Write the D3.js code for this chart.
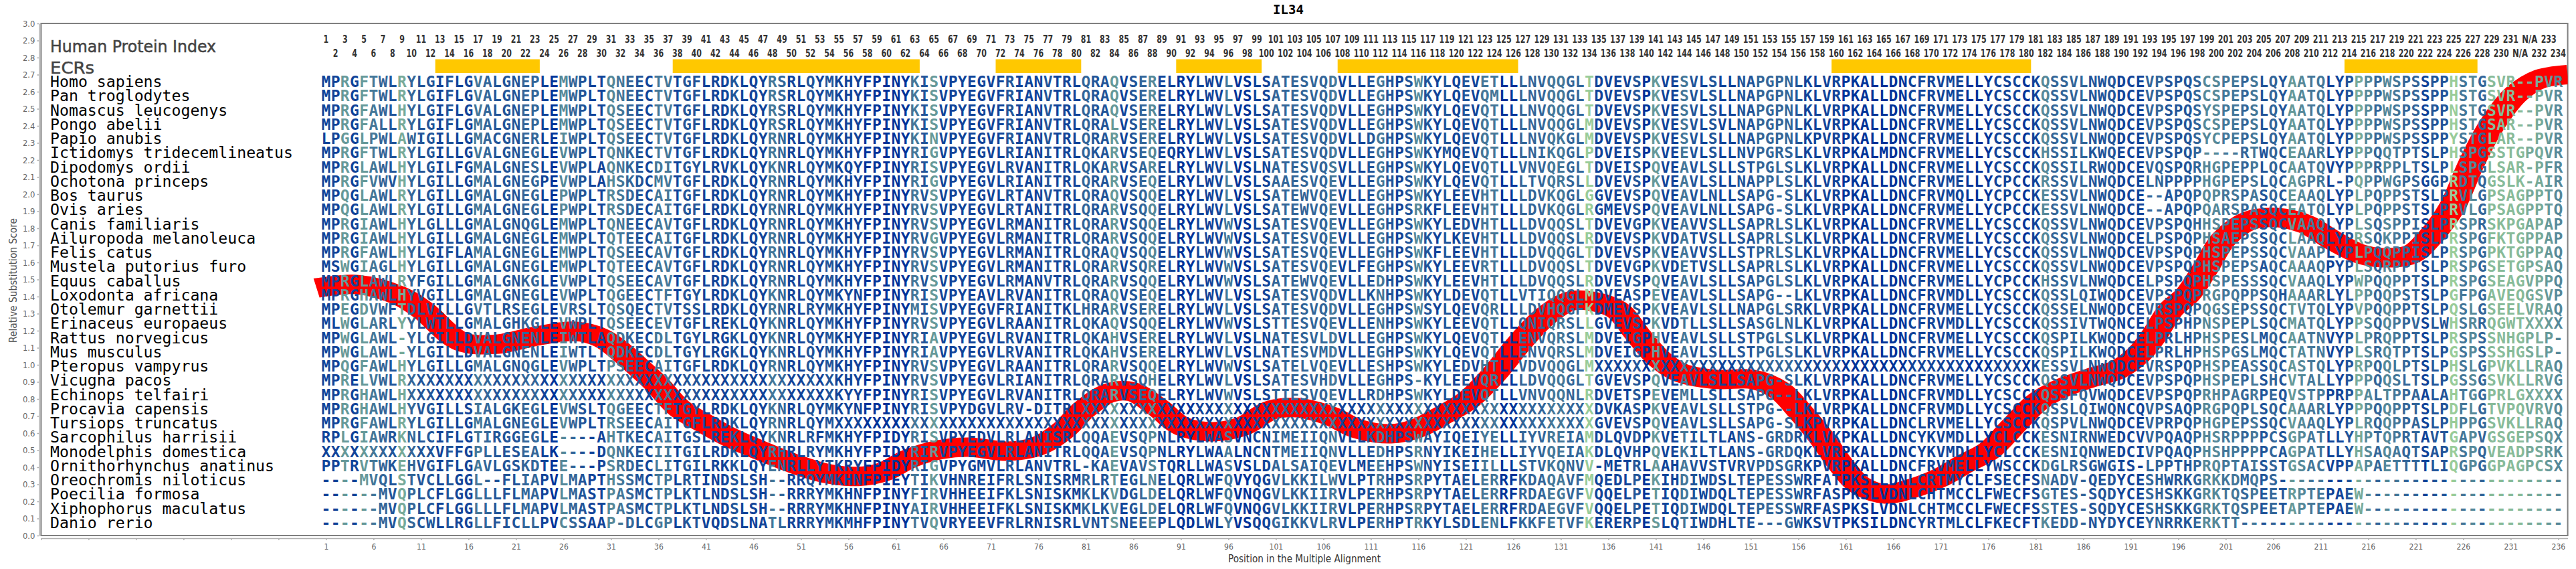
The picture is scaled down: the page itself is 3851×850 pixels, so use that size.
<!DOCTYPE html>
<html>
<head>
<meta charset="utf-8">
<title>IL34</title>
<script src="https://cdn.jsdelivr.net/npm/d3@7"></script>
<style>
    body { margin: 0; background: #fff; }
    svg { display: block; }
</style>
</head>
<body>
<svg id="chart" width="3851" height="850"></svg>
<script>
const species = ["Homo sapiens", "Pan troglodytes", "Nomascus leucogenys", "Pongo abelii", "Papio anubis",
    "Ictidomys tridecemlineatus", "Dipodomys ordii", "Ochotona princeps", "Bos taurus", "Ovis aries",
    "Canis familiaris", "Ailuropoda melanoleuca", "Felis catus", "Mustela putorius furo", "Equus caballus",
    "Loxodonta africana", "Otolemur garnettii", "Erinaceus europaeus", "Rattus norvegicus", "Mus musculus",
    "Pteropus vampyrus", "Vicugna pacos", "Echinops telfairi", "Procavia capensis", "Tursiops truncatus",
    "Sarcophilus harrisii", "Monodelphis domestica", "Ornithorhynchus anatinus", "Oreochromis niloticus",
    "Poecilia formosa", "Xiphophorus maculatus", "Danio rerio"];

// alignment, cut in four blocks: columns 1-30, 31-100, 101-170, 171-236
const block1 = ["MPRGFTWLRYLGIFLGVALGNEPLEMWPLT", "MPRGFTWLRYLGIFLGVALGNEPLEMWPLT", "MPRGFAWLHYLGIFLGVALGNEPLEMWPLT",
    "MPRGFALLRYLGIFLGMALGNEPLEMWPLT", "LPGGLPWLAWIGILLGMACGNERLEIWPLT", "MPRGFTWLRYLGILLGVALGNEGLEVWPLT",
    "MPRGLAWLHYLGILFGMALGNESLEVWPLA", "MPRGFVWVHYLGILLGMALGNEGPEVWPLA", "MPQGLAWLRYLGILLGMALGNEGLEPWPLT",
    "MPQGLAWLRYLGILLGMALGNEGLEPWPLT", "MPRGIAWLHYLGLLLGMALGNQGLEMWPLT", "MPRGIAWLHYLGILLGMALGNEGLEMWPLT",
    "MPRGFAWLHYLGIFLAMALGNEGLEMWPLT", "MSWGIAGLHYLGILLGMALGNEGLEMWPLT", "MPRGLAWLRYFGILLGMALGNKGLEVWPLT",
    "MPRGHAWLHYVGILLGMALGNEGLEVWPLT", "MPEGDVWFTDLVILLGVTLRSEGLEVRSLT", "MLWGLARLYYLWTLLGMALGHKGLEVWPLT",
    "MPWGLAWL-YLGILLDVALGNENLEIWTLA", "MPWGLAWL-YLGILLDVALGNENLEIWTLT", "MPQGFAWLHYLGILLGMALGNQGLEVWPLT",
    "MPRELVWLRXXXXXXXXXXXXXXXXXXXXX", "MPRGHAWLHXXXXXXXXXXXXXXXXXXXXX", "MPRGHAWLHYVGILLSIALGKEGLEVWSLT",
    "MPRGFAWLRYLGILLGMALGNEGLEVWPLT", "RPLGIAWRKNLCIFLGTIRGGEGLE----A", "XXXXXXXXXXXXVFFGPLLESEALK----D",
    "PPTRVTWKEHVGIFLGAVLGSKDTEE---P", "----MVQLSTVCLLGGL--FLIAPVLMAPT", "------MVQPLCFLGGLLLFLMAPVLMAST",
    "------MVQPLCFLGGLLLFLMAPVLMAST", "------MVQSCWLLRGLLFICLLPVCSSAA"];

const block2 = ["QNEECTVTGFLRDKLQYRSRLQYMKHYFPINYKISVPYEGVFRIANVTRLQRAQVSERELRYLWVLVSLS",
    "QNEECTVTGFLRDKLQYRSRLQYMKHYFPINYKISVPYEGVFRIANVTRLQRAQVSERELRYLWVLVSLS",
    "QSEECTVTGFLRDKLQYRSRLQYMKHYFPINYKISVPYEGVFRIANVTRLQRAQVSERELRYLWVLVSLS",
    "QSEECTVTGFLRDKLQYRSRLQYMKHYFPINYKISVPYEGVFRIANVTRLQRALVSERELRYLWVLVSLS",
    "QSEECTVTGFLRDKLQYRNRLQYMKHYFPINYKINVPYEGVFRIANVTRLQRARVSERELRYLWVLVSLS",
    "QNKECTVTGFLRDKLQYRNRLQYMKHYFPINYRIGVPYEGVLRIANITRLQKARVSEQEQRYLWVLVSLS",
    "QNKECDITGYLRVKLQYKNRLQYMKQYFPINYRISVPYEGVLRVANITRLQKARVSARELRYLWVLVSLN",
    "HSKDCMVTGFLRDKLQYRNRLQYMKHYFPINYRIGVPYEGVLRIANITRLQRARVSEQELRYLWVLVSLS",
    "RSDECAITGFLRDKLQYRNRLQYMKHYFPINYRVSVPYEGVLRTANVTRLQRAQVSQQELRYLWVLVSLS",
    "RSDECAITGFLRDKLQYRNRLQYMKHYFPINYRVSVPYEGVLRTANITRLQRARVSQQELRYLWVLVSLS",
    "QNEECAVTGFLRDKLQYRNRLQYMKHYFPINYRVSVPYEGVLRMANITRLQRARVSQQELRYLWVWVSLS",
    "QTEECAITGFLRDKLQYRNRLQYMKHYFPINYRVGVPYEGVLRMANITRLQRARVSQQELRYLWVWVSLS",
    "QSEECAVTGFLRDKLQYRNRLQYMKHYFPINYRVSVPYEGVLRMANITRLQRAQVSQQELRYLWVWVSLS",
    "QTEECAVTGFLRDKLQYRNRLQYMKHYFPINYRVSVPYEGVLRMANITRLQRARVSQRELRYLWVWVSLS",
    "QSEECAVTGFLRDKLQYRNRLQYMKHYFPINYRVSVPYEGVLRMANVTRLQRARVSQQELRYLWVWVSLS",
    "QGEECTFTGYLRDKLQYKNRLQYMKYNFPINYRISVPYEAVLRVANITRLQRAQVSEQELRYLWVLVSLS",
    "QSQECTVTSSLRDKLQYRNRLRYMKHYFPINYMISVPYEGVFRIANITKLHRARVSERELRYLWVLVSLS",
    "QSEECEVTGFLREKLQYKNRLQYMKHYFPINYRVSVPYEGVLRAANITRLQKAQVSQQELRYLWVWVSLS",
    "QDKECDLTGYLRGKLQYKNRLQYMKHYFPINYRIAVPYEGVLRVANITRLQKAHVSERELRYLWVLVSLN",
    "QDKECDLTGYLRGKLQYKNRLQYMKHYFPINYRIAVPYEGVLRVANITRLQKAHVSERELRYLWVLVSLN",
    "PSEECAITGFLRDKLQYRNRLQYMKHYFPINYRVSVPYEGVLRAANITRLQRARVSQQELRYLWVWVSLS",
    "XXXXXXXXXXXXXXXXXXXXXXXXKHYFPINYRVSVPYEGVLRIANITRLQRARVSQHELRYLWVLVSLS",
    "XXXXXXXXXXXXXXXXXXXXXXXXKYYFPINYRISVPYEGVLRVANITRLQRARVSEQELRYLWVWVSLS",
    "QGEECTFTGYLRDKLQYKNRLQYMKYNFPINYRISVPYDGVLRV-DITRLXXXXXXXXXXXXXXXXXXXX",
    "RSEECAITGFLRDKLQYRNRLQYMXXXXXXXXXXXXXXXXXXXXXXXXXXXXXXXXXXXXXXXXXXXXXX",
    "HTKECAITGSLREKLQYKNRLRFMKHYFPIDYRISVPYEDVLRLANISRLQQAEVSQPNLRYLWASVNCN",
    "QNKECIITGILRDKLQYRHRLRYMKHYFPIDYRIRVPYEGVLRLANITRLQQAEVSQPNLRYLWAALNCN",
    "SRDECLITGILRKKLQYENRLLYTKRYFPIDYRIGVPYGMVLRLANVTRL-KAEVAVSTQRLLWASVSLD",
    "HSSMCTPLRTINDSLSH--RRQYMKHNFPIEYTIKVHNREIFRLSNISRMRLRTEGLNELQRLWFQVYQG",
    "PASMCTPLKTLNDSLSH--RRRYMKHNFPINYFIRVHHEEIFKLSNISKMKLKVDGLDELQRLWFQVNQG",
    "PASMCTPLKTLNDSLSH--RRRYMKHNFPINYAIRVHHEEIFKLSNISKMKLKVEGLDELQRLWFQVNQG",
    "P-DLCGPLKTVQDSLNATLRRRYMKMHFPINYTVQVRYEEVFRLRNISRLVNTSNEEEPLQDLWLYVSQQ"];

const block3 = ["ATESVQDVLLEGHPSWKYLQEVETLLLNVQQGLTDVEVSPKVESVLSLLNAPGPNLKLVRPKALLDNCFR",
    "ATESVQDVLLEGHPSWKYLQEVQMLLLNVQQGLTDVEVSPKVESVLSLLNAPGPNLKLVRPKALLDNCFR",
    "ATESVQDVLLEGHPSWKYLQEVQTLLLNVQQGLTDVEVSPKVESVLSLLNAPGPNLKLVRPKALLDNCFR",
    "ATESVQDVLLEGHPSWKYLQEVQTLLLNVQQGLMDVEVSPKVESVLSVLNAPGPNLKLVRPKALLDNCFR",
    "ATESVQDVLLDGHPSWKYLQEVQTLLLNVQKGLMDVEVSPKVESVLSLLNAPGPNLKPVRPKALLDNCFR",
    "ATESVQDVLLEGHPSWKYMQEVQTLLLNIKQGLPDVEISPKVEEVLSLLNVPGRSLKLVRPKALMDNCFR",
    "ATESVQSVLLEGHPSWKYLQEVQTLLVNVQEGLTDVEISPQVEAVLSLLSTPGLSLKLVRPKALLDNCFR",
    "AAESVQEVLLEGHPSWKYLQEVQTLLLTVQRSLLDVEVSPKVEAVLSLLNAPPLSLKLVRPKALLDNCFR",
    "ATEWVQEVLLEGHPSWKYLEEVHTLLLDVKQGLGGVEVSPQVEAVLNLLSAPG-SLKLVRPKALLDNCFR",
    "ATEWVQEVLLEGHPSRKFLEEVHTLLLDVKQGLRGMEVSPQVEAVLNLLSAPG-SLKLVRPKALLDNCFR",
    "ATESVQEVLLEGHPSWKYLEDVHTLLLDVQQSLTDVEVGPKVEAVVSLLSAPRLSLKLVRPKALLDNCFR",
    "ATESVQEVLLEGHPSWKYLKEVHTLLLDVQQSLRDVEVSPKVDATVSLLSAPRLSLKLVRPKALLDNCFR",
    "ATESVQEVLLEGHPSWKFLEEVHTLLLDVQQGLTDVEVSPKVEAVVSLLSTPRLSLKLVRPKALLDNCFR",
    "ATESVQEVLFEGHPSWKYLEEVRTLLLDVQQSLTDVEVGPKVDETVSLLSAPRLSLKLVRPKALLDNCFR",
    "ATEWVQEVLLEDHPSWKYLEEVHTLLLDVQQSLRDVEVSPQVEAVLSLLSAPGLSLKLVRPKALLDNCFR",
    "ATESVQDVLLKNHPSWKYLDEVQTLLVTIQQGLMDVEASPEVEAVLSLLSAPG--LKLVRPKALLDNCFR",
    "ATESVQDVLLEGHPSWSYLQEVQRLLLDVHQGFKDMEVSPKVEAVLSLLNAPGLSRKLVRPKALLDNCFR",
    "TTESVQEVLLENHPSWKYLEEVQTLLQNIQRSLLGVEVSPKVDTLLSLLSASGLNLKLVRPKALLDNCFR",
    "ATESVLDVLLEGHPSWKYLQEVQTLLENVQRSLMDVEIGPHVEAVLSLLSTPGLSLKLVRPKALLDNCFR",
    "ATESVMDVLLEGHPSWKYLQEVQTLLENVQRSLMDVEIGPHVEAVLSLLSTPGLSLKLVRPKALLDNCFR",
    "ATELVQEVLLESHPSWKYLEDVHTLLVDVQQGLMXXXXXXXXXXXXXXXXXXXXXXXXXXXXXXXXXXXX",
    "ATESVHDVLLEGHPS-KYLEEVQRLLLDVQQGLTGVEVSPQVEAVLSLLSAPG-SLKLVRPKALLDNCFR",
    "TIESVQEVLLRDHPSWKYLDEVQTLLVNVQQNLRDVETSPEVEMLLSLLSAPG--LKLVRPKALLDNCFR",
    "XXXXXXXXXXXXXXXXXXXXXXXXXXXXXXXXXXDVKASPKVEAVLSLLSTPG--LKLVRPKALLDNCFR",
    "XXXXXXXXXXXXXXXXXXXXXXXXXXXXXXXXXXGVEVSPQVEAVLSLLSAPG-SLKPVRPKALLDNCLR",
    "IMEIIQNVLLKDHPSWAYIQEIYELLIYVREIAMDLQVDPKVETILTLANS-GRDRKLVKPKALLDNCYK",
    "TMEIIQNVLLEDHPSRNYIKEIHELLIYVQEIAKDLQVHPQVEKILTLANS-GRDQKLVRPKALLDNCYK",
    "ALSAIQEVLMEEHPSWNYISEIILLLSTVKQNVV-METRLAAHAVVSTVRVPDSGRKPVRPKALLDNCFR",
    "VLKKILWVLPTRHPSRPYTAELERRFKDAQAVFMQEDLPEKIHDIWDSLTEPESSWRFATPKSLLDNLCR",
    "VLKKIIRVLPERHPSRPYTAELERRFRDAEGVFVQQELPETIQDIWDQLTEPESSWRFASPKSLVDNLCH",
    "VLKKIIRVLPERHPSRPYTAELERRFRDAEGVFVQQELPETIQDIWDQLTEPESSWRFASPKSLVDNLCH",
    "GIKKVLRVLPERHPTRKYLSDLENLFKKFETVFKERERPESLQTIWDHLTE---GWKSVTPKSILDNCYR"];

const block4 = ["VMELLYCSCCKQSSVLNWQDCEVPSPQSCSPEPSLQYAATQLYPPPPWSPSSPPHSTGSVR--PVR",
    "VMELLYCSCCKQSSVLNWQDCEVPSPQSCSPEPSLQYAATQLYPPPPWSPSSPPHSTGSVR--PVR",
    "VMELLYCSCCKQSSVLNWQDCEVPSPQSYSPEPSLQYAATQLYPPPPWSPSSPPNSTGSVR--PVR",
    "VMELLYCSCCKQSSVLNWQDCEVPSPQSCSPEPSLQYAATQLYPPPPWSPSSPPHSTGSAR--PVR",
    "VMELLYCSCCKQSSVLNWQDCEVPSPQSYCPEPSLQYAATQLYPPPPWSPSSPPYSTGLAR--PVR",
    "VMELLYCSCCKHSSILKWQECEVPSPQP----RTWQCEAARLYPPPQQTPTSLPHSPGSSTGPQVR",
    "VMELLYCSCCKQSSILRWQDCEVQSPQRHGPEPPLQCAATQVYPPPRPPLTSLPLSPGLSAR-PFR",
    "VMELLYCPCCKRSSVLNWQDCELNPPPPHGPEPSLQCAGPRL-PQPPWGPSGGPRDTQGSLK-AIR",
    "VMQLLYCPCCKESSVLNWQDCE--APQPQPRSPASQCEAAQLYPLPQPPSTSLPRVLGPSAGPPTQ",
    "VMELLYCPCCKESSVLNWQDCE--APQPQARSPASQCEATQLYPLPQPPSTSLPRVLGPSAGPPTQ",
    "VMELLYCSCCKQSSVLNWQDCEVPSPQHHSPEPSSQCVAAQLYPLSQSPPISLPRSPRSKPGAPAP",
    "VMELLYCSCCKQSSVLNWQDCELPSPQPHSAEPSSQCLAAQLYPRSQKPPISLPRSPGFKTGPPAP",
    "VMELLYCSCCKQSSVLNWQDCEVPSPQPHSPEPSSQCVAAPLYPLPQQPPISLPRSPGPKTGPPAQ",
    "VMELLYCSCCKQSSVLNWQDCEVPSPQPHSPEPSAQCAAAQPYPLSQRPPTSLPRSPGSETGPSAQ",
    "VMELLYCPCCKHSSVLNWQDCELPSPQPHSPESSSQCVAAQLYPWPQQPPTSLPRSPGSEAGVPPQ",
    "VMDLLYCSCCKQSSLQIWQDCEVPSPQPRGPQPPSQHAAARLYLPPQQPSTSLPGFPGAVEQGSVP",
    "VMELLYCSCCKQSSELNWQDCEVRSPQPQGSEPSSQCTVTQLYPVPQQPPTSLPQSLGSEELVRAQ",
    "VMDLLYCSCCKQSSIVTWQNCELPSPHPNSPEPLSQCMATQLYPPSQQPPVSLWHSRRQGWTXXXX",
    "VMELLYCSCCKQSPILKWQDCELPRLHPHSPESLMQCAATNVYPLPRQPPTSLPRSPSSNHGPLP-",
    "VMELLYCSCCKQSPILKWQDCELPRLHPHSPGSLMQCTATNVYPLSRQTPTSLPGSPSSSHGSLP-",
    "XXXXXXXXXXKESSVLNWQDCEVRSPQPHSPEASSQCASTQLYPRPQQLPTSLPHSLGPVKLLRAQ",
    "VMELLYCSCCKQSSVLNWQDCEVPSPQPHSPEPLSHCVTALLYPPPQQSLTSLPGSSGSVKLLRVG",
    "VMDLLYCSCCKQSSFQVWQDCEVPSPQPRHPAGRPEQVSTPPRPPALTPPAALAHTGGPRLGXXXX",
    "VMDLLYCSCCKQSSLQIWQNCQVPSAQPRGPQPLSQCAAARLYPPPQQPPTSLPDFLGTVPQVRVQ",
    "VMELLYCSCCKQSPVLNWQDCEVPRPQPHGPEPSSQCVAAQLYPLRQQPPASLPHPPGSVKLLRAQ",
    "VMDLLYCLCCKESNIRNWEDCVVPQAQPHSRPPPPCSGPATLLYHPTQPRTAVTGAPVGSGEPSQX",
    "VMDLLYCLCCKESNIQNWEDCIVPQAQPHSHPPPPCAGPATLLYHSAQAQTSAPRSPQVEADPSRK",
    "VMELLYWSCCKDGLRSGWGIS-LPPTHPRQPTAISSTGSACVPPAPAETTTTLIQGPGGPAGPCSX",
    "TMYCLFSECFSNADV-QEDYCESHWRKGRKKDMQPS------------------------------",
    "TMCCLFWECFSGTES-SQDYCESHSKKGRKTQSPEETRPTEPAEW---------------------",
    "TMCCLFWECFSSTES-SQDYCESHSKKGRKTQSPEETAPTEPAEW---------------------",
    "TMLCLFKECFTKEDD-NYDYCEYNRRKERKTT----------------------------------"];

const columnShade = ("1161643273" + "2212114322" + "2331053211"
    + "5432144122" + "1112111431" + "1212111000" + "0042611111" + "1121112111" + "3226123511" + "0011140011"
    + "3333334111" + "2421252121" + "2144003334" + "4339111120" + "6114212112" + "2333321111" + "0000000111"
    + "1110001110" + "1533332221" + "1133222355" + "4434232654" + "4112753543" + "3122945388" + "887765").split("").map(Number);

// ECR stretches, first and last alignment column
const ecrStart = [13, 38, 72, 91, 108, 160, 214];
const ecrEnd = [23, 63, 80, 99, 126, 180, 227];

// human protein index: two columns in the alignment have no residue number
const proteinIndex = d3.range(1, 232).map(String).concat(["N/A", "N/A", "232", "233", "234"]);

// red curve
const curvePos = [0, 4.3, 8.7, 11.2, 15.2, 18.8, 23.3, 27.3, 30, 34.6, 35.9, 38.2, 40.9, 43.5, 47.1, 50.3, 53.5, 57, 59.7,
    62.4, 65.6, 68.7, 72.8, 75.9, 78.6, 80.8, 83.5, 85.8, 88.5, 91.1, 94.3, 97.5, 100.5, 103.2, 106.8, 109.5, 113.1, 115.8,
    118.5, 121.2, 123.9, 126.6, 129.3, 132, 134.2, 136.9, 139.1, 141.4, 143.6, 147.2, 151.3, 154, 156.2, 158.4, 160.7,
    162.5, 165.2, 167.9, 171, 173.5, 176.1, 178.6, 181.2, 183.7, 186.7, 189.7, 191.8, 193.5, 195.2, 197, 198.9, 200.8,
    203.4, 206.4, 209.4, 212.4, 215.3, 217.9, 220.5, 222.6, 224.8, 226.9, 229, 231.6, 234.1, 237];
const curveScore = [1.45, 1.47, 1.405, 1.32, 1.137, 1.12, 1.17, 1.196, 1.157, 0.95, 0.882, 0.745, 0.655, 0.576, 0.49, 0.42, 0.366, 0.346, 0.373,
    0.45, 0.503, 0.518, 0.494, 0.523, 0.616, 0.738, 0.836, 0.843, 0.753, 0.64, 0.608, 0.64, 0.735, 0.749, 0.699, 0.627, 0.596, 0.627,
    0.703, 0.792, 0.941, 1.125, 1.282, 1.373, 1.373, 1.322, 1.176, 1.033, 0.954, 0.915, 0.914, 0.851, 0.725, 0.576, 0.4,
    0.294, 0.243, 0.275, 0.341, 0.42, 0.498, 0.64, 0.784, 0.863, 0.922, 0.974, 1.059, 1.176, 1.322, 1.412, 1.569, 1.737,
    1.843, 1.863, 1.824, 1.725, 1.647, 1.627, 1.647, 1.753, 1.922, 2.184, 2.404, 2.588, 2.675, 2.7];

const alignment = species.map((s, i) => block1[i] + block2[i] + block3[i] + block4[i]);

const svg = d3.select("#chart");

const x = d3.scaleLinear().domain([-29, 237]).range([61.4, 3838.6]);
const y = d3.scaleLinear().domain([0, 3]).range([800, 35]);
const rowY = d3.scalePoint().domain(species).range([130, 789]);
const colW = x(2) - x(1);

const shade = d3.scaleLinear()
    .domain([0, 3, 6, 9])
    .range(["#003399", "#336699", "#669999", "#99cc99"]);

// plot frame
svg.append("rect")
    .attr("x", x(-29)).attr("y", y(3))
    .attr("width", x(237) - x(-29)).attr("height", y(0) - y(3))
    .attr("fill", "none").attr("stroke", "#808080").attr("stroke-width", 2);

svg.append("clipPath").attr("id", "plot")
    .append("rect")
    .attr("x", x(-29)).attr("y", y(3))
    .attr("width", x(237) - x(-29)).attr("height", y(0) - y(3));

// y axis sits a few px off the frame
const yAxis = svg.append("g")
    .attr("transform", `translate(${x(-29) - 3},0)`)
    .call(d3.axisLeft(y).tickValues(d3.range(0, 31).map(d => d / 10)).tickFormat(d3.format(".1f")).tickSize(3).tickSizeOuter(0));

const xTicks = d3.range(-29, 237, 5);
const xAxis = svg.append("g")
    .attr("transform", `translate(0,${y(0) + 4})`)
    .call(d3.axisBottom(x).tickValues(xTicks).tickFormat(d => d > 0 ? d : "").tickSize(3).tickSizeOuter(0));

[yAxis, xAxis].forEach(g => {
    g.selectAll("path, line").attr("stroke", "#b0b0b0").attr("stroke-width", 1.5);
    g.selectAll("text")
        .attr("fill", "#666")
        .attr("font-family", "DejaVu Sans")
        .attr("font-size", 13);
});
yAxis.selectAll("text").attr("textLength", 18.5).attr("lengthAdjust", "spacingAndGlyphs").attr("x", -6);
xAxis.selectAll("text")
    .attr("y", 8)
    .filter(d => d > 0)
    .attr("textLength", d => String(d).length * 6.9)
    .attr("lengthAdjust", "spacingAndGlyphs");

svg.append("text")
    .attr("x", 1950).attr("y", 840)
    .attr("text-anchor", "middle")
    .attr("font-family", "DejaVu Sans").attr("font-size", 16).attr("fill", "#333")
    .attr("textLength", 228).attr("lengthAdjust", "spacingAndGlyphs")
    .text("Position in the Multiple Alignment");

svg.append("text")
    .attr("transform", "translate(25,419) rotate(-90)")
    .attr("text-anchor", "middle")
    .attr("font-family", "DejaVu Sans").attr("font-size", 15).attr("fill", "#555")
    .attr("textLength", 186).attr("lengthAdjust", "spacingAndGlyphs")
    .text("Relative Substitution Score");

svg.append("text")
    .attr("x", 1926).attr("y", 21)
    .attr("text-anchor", "middle")
    .attr("font-family", "DejaVu Sans Mono").attr("font-weight", "bold").attr("font-size", 19)
    .text("IL34");

svg.append("text")
    .attr("x", 75).attr("y", 78)
    .attr("font-family", "DejaVu Sans").attr("font-size", 24).attr("fill", "#444")
    .attr("stroke", "#444").attr("stroke-width", 0.5)
    .attr("textLength", 248).attr("lengthAdjust", "spacingAndGlyphs")
    .text("Human Protein Index");

svg.append("text")
    .attr("x", 75).attr("y", 110)
    .attr("font-family", "DejaVu Sans").attr("font-size", 24).attr("fill", "#444")
    .attr("stroke", "#444").attr("stroke-width", 0.5)
    .attr("textLength", 66).attr("lengthAdjust", "spacingAndGlyphs")
    .text("ECRs");

// index labels over the alignment, odd columns on the top line
svg.append("g").selectAll("text")
    .data(proteinIndex)
    .join("text")
    .attr("x", (d, i) => x(i + 1))
    .attr("y", (d, i) => i % 2 == 0 ? 64 : 85)
    .attr("text-anchor", "middle")
    .attr("font-family", "DejaVu Sans").attr("font-weight", "bold").attr("font-size", 15)
    .attr("fill", "#333")
    .attr("textLength", d => d.length * 7.7)
    .attr("lengthAdjust", "spacingAndGlyphs")
    .text(d => d);

svg.append("g").selectAll("rect")
    .data(ecrStart)
    .join("rect")
    .attr("x", d => x(d) - colW / 2)
    .attr("y", 88.5)
    .attr("width", (d, i) => x(ecrEnd[i]) - x(d) + colW)
    .attr("height", 20.5)
    .attr("fill", "#ffc800");

// thick substitution curve goes under the letters.
// the band is wider across than up and down, so stretch the pen in x
const penStretch = 1.38;
const curveLine = d3.line()
    .x((d, i) => x(curvePos[i]) / penStretch)
    .y(d => y(d))
    .curve(d3.curveCatmullRom.alpha(0.5));

svg.append("g")
    .attr("clip-path", "url(#plot)")
    .append("path")
    .attr("transform", `scale(${penStretch},1)`)
    .attr("d", curveLine(curveScore))
    .attr("fill", "none")
    .attr("stroke", "#ff0000")
    .attr("stroke-width", 29);

svg.append("g").selectAll("text")
    .data(species)
    .join("text")
    .attr("x", 75)
    .attr("y", d => rowY(d))
    .attr("font-family", "DejaVu Sans Mono").attr("font-size", 23.2)
    .attr("fill", "#000")
    .text(d => d);

alignment.forEach((seq, r) => {
    svg.append("g").selectAll("text")
        .data(seq.split(""))
        .join("text")
        .attr("x", (d, i) => x(i + 1))
        .attr("y", rowY(species[r]))
        .attr("text-anchor", "middle")
        .attr("font-family", "DejaVu Sans Mono").attr("font-weight", "bold").attr("font-size", 23)
        .attr("fill", (d, i) => shade(columnShade[i]))
        .text(d => d);
});
</script>
</body>
</html>
